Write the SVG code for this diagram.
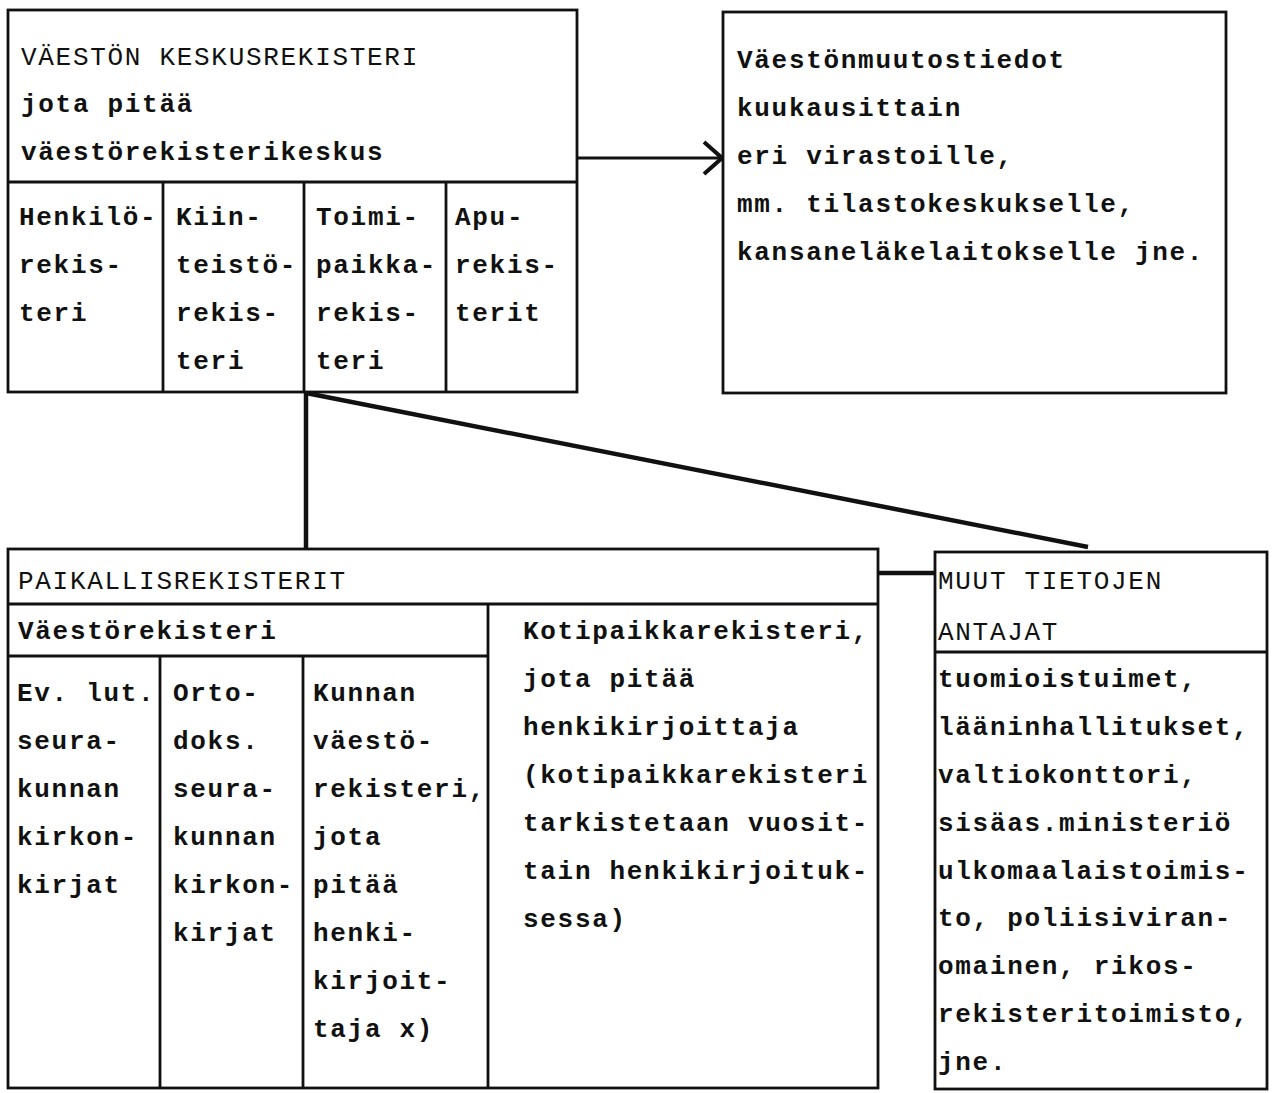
<svg xmlns="http://www.w3.org/2000/svg" width="1274" height="1093" viewBox="0 0 1274 1093">
<style>
.box{fill:none;stroke:#111;stroke-width:2.8}
.ln{stroke:#111;stroke-width:2.8;fill:none}
.conn{stroke:#111;stroke-width:4.5;fill:none}
text{font-family:"Liberation Mono","Courier New",monospace;font-size:26px;letter-spacing:1.7px;fill:#111;font-weight:bold}
text.h{font-weight:normal}
</style>
<defs>
<marker id="arr" markerWidth="22" markerHeight="36" refX="20" refY="18" orient="auto" markerUnits="userSpaceOnUse">
<path d="M2,2 L20,18 L2,34" fill="none" stroke="#111" stroke-width="4"/>
</marker>
</defs>
<rect width="1274" height="1093" fill="#fff"/>

<g id="keskusrekisteri">
<rect class="box" x="8" y="10" width="569" height="382"/>
<line class="ln" x1="8" y1="182" x2="577" y2="182"/>
<line class="ln" x1="163" y1="182" x2="163" y2="392"/>
<line class="ln" x1="304" y1="182" x2="304" y2="392"/>
<line class="ln" x1="446" y1="182" x2="446" y2="392"/>
<text class="h" x="21" y="65">VÄESTÖN KESKUSREKISTERI</text>
<text x="21" y="112">jota pitää</text>
<text x="21" y="160">väestörekisterikeskus</text>
<text x="19" y="225">Henkilö-</text>
<text x="19" y="273">rekis-</text>
<text x="19" y="321">teri</text>
<text x="176" y="225">Kiin-</text>
<text x="176" y="273">teistö-</text>
<text x="176" y="321">rekis-</text>
<text x="176" y="369">teri</text>
<text x="316" y="225">Toimi-</text>
<text x="316" y="273">paikka-</text>
<text x="316" y="321">rekis-</text>
<text x="316" y="369">teri</text>
<text x="455" y="225">Apu-</text>
<text x="455" y="273">rekis-</text>
<text x="455" y="321">terit</text>
</g>

<g id="vaestonmuutostiedot">
<rect class="box" x="723" y="12" width="503" height="381"/>
<text x="737" y="68">Väestönmuutostiedot</text>
<text x="737" y="116">kuukausittain</text>
<text x="737" y="164">eri virastoille,</text>
<text x="737" y="212">mm. tilastokeskukselle,</text>
<text x="737" y="260">kansaneläkelaitokselle jne.</text>
</g>

<g id="paikallisrekisterit">
<rect class="box" x="8" y="549" width="870" height="539"/>
<line class="ln" x1="8" y1="604" x2="878" y2="604"/>
<line class="ln" x1="8" y1="656" x2="488" y2="656"/>
<line class="ln" x1="488" y1="604" x2="488" y2="1088"/>
<line class="ln" x1="160" y1="656" x2="160" y2="1088"/>
<line class="ln" x1="303" y1="656" x2="303" y2="1088"/>
<text class="h" x="18" y="589">PAIKALLISREKISTERIT</text>
<text x="18" y="639">Väestörekisteri</text>
<text x="17" y="701">Ev. lut.</text>
<text x="17" y="749">seura-</text>
<text x="17" y="797">kunnan</text>
<text x="17" y="845">kirkon-</text>
<text x="17" y="893">kirjat</text>
<text x="173" y="701">Orto-</text>
<text x="173" y="749">doks.</text>
<text x="173" y="797">seura-</text>
<text x="173" y="845">kunnan</text>
<text x="173" y="893">kirkon-</text>
<text x="173" y="941">kirjat</text>
<text x="313" y="701">Kunnan</text>
<text x="313" y="749">väestö-</text>
<text x="313" y="797">rekisteri,</text>
<text x="313" y="845">jota</text>
<text x="313" y="893">pitää</text>
<text x="313" y="941">henki-</text>
<text x="313" y="989">kirjoit-</text>
<text x="313" y="1037">taja x)</text>
<text x="523" y="639">Kotipaikkarekisteri,</text>
<text x="523" y="687">jota pitää</text>
<text x="523" y="735">henkikirjoittaja</text>
<text x="523" y="783">(kotipaikkarekisteri</text>
<text x="523" y="831">tarkistetaan vuosit-</text>
<text x="523" y="879">tain henkikirjoituk-</text>
<text x="523" y="927">sessa)</text>
</g>

<g id="muut-tietojen-antajat">
<rect class="box" x="935" y="552" width="332" height="537"/>
<line class="ln" x1="935" y1="652" x2="1267" y2="652"/>
<text class="h" x="938" y="589">MUUT TIETOJEN</text>
<text class="h" x="938" y="640">ANTAJAT</text>
<text x="938" y="687">tuomioistuimet,</text>
<text x="938" y="735">lääninhallitukset,</text>
<text x="938" y="783">valtiokonttori,</text>
<text x="938" y="831">sisäas.ministeriö</text>
<text x="938" y="879">ulkomaalaistoimis-</text>
<text x="938" y="926">to, poliisiviran-</text>
<text x="938" y="974">omainen, rikos-</text>
<text x="938" y="1022">rekisteritoimisto,</text>
<text x="938" y="1070">jne.</text>
</g>

<g id="connectors">
<line class="ln" x1="577" y1="158" x2="722" y2="158" marker-end="url(#arr)"/>
<line class="conn" x1="306" y1="392" x2="306" y2="549"/>
<line class="conn" x1="306" y1="393" x2="1088" y2="547"/>
<line class="conn" x1="878" y1="573" x2="935" y2="573"/>
</g>
</svg>
